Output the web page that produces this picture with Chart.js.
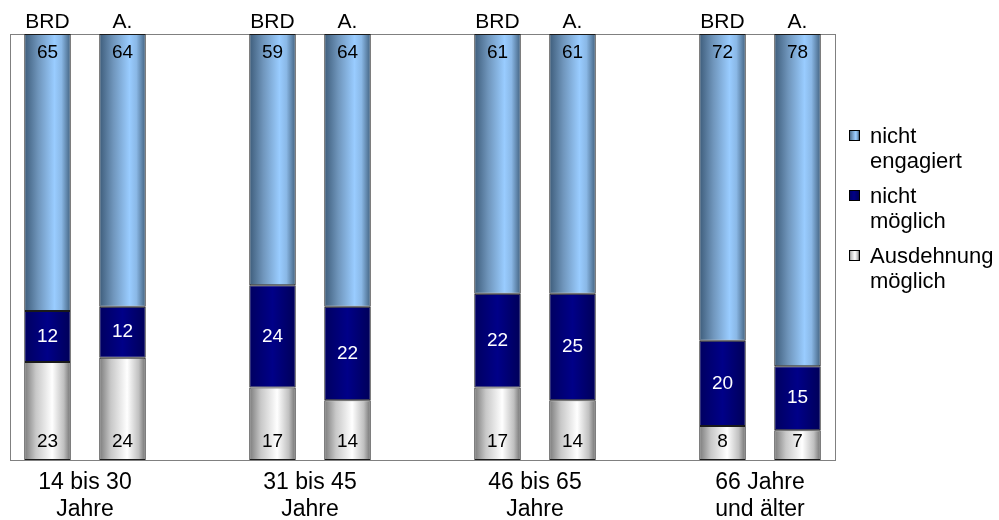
<!DOCTYPE html>
<html>
<head>
<meta charset="utf-8">
<script src="https://cdn.jsdelivr.net/npm/chart.js@4"></script>
<style>
  html, body { margin: 0; padding: 0; background: #fff; }
  #wrap { width: 999px; height: 520px; }
</style>
</head>
<body>
<div id="wrap"><canvas id="chart" width="999" height="520"></canvas></div>
<script>
const groups = [["14 bis 30", "Jahre"], ["31 bis 45", "Jahre"], ["46 bis 65", "Jahre"], ["66 Jahre", "und älter"]];
const barNames = ["BRD", "A."];
const seriesNames = ["Ausdehnung möglich", "nicht möglich", "nicht engagiert"];
const legendLines = [["Ausdehnung", "möglich"], ["nicht", "möglich"], ["nicht", "engagiert"]];

// BRD, A. per group
const ausdehnung = [23, 24, 17, 14, 17, 14, 8, 7];
const nichtMoeglich = [12, 12, 24, 22, 22, 25, 20, 15];
const nichtEngagiert = [65, 64, 59, 64, 61, 61, 72, 78];

const FONT = "'Liberation Sans', Arial, sans-serif";

// 3 slots per group: BRD, A., gap
const slots = [];
const slotLabels = [];
groups.forEach((g, gi) => {
    barNames.forEach((b, bi) => { slots.push(gi * 2 + bi); slotLabels.push(b); });
    if (gi < groups.length - 1) { slots.push(null); slotLabels.push(""); }
});
const toSlots = (arr) => slots.map(i => i === null ? null : arr[i]);

const stopsGray = [[0, "#7a7a7a"], [0.25, "#c8c8c8"], [0.6, "#ffffff"], [0.85, "#c0c0c0"], [1, "#6e6e6e"]];
const stopsNavy = [[0, "#000060"], [0.5, "#000088"], [1, "#000058"]];
const stopsBlue = [[0, "#3d5c7a"], [0.3, "#6f95bb"], [0.65, "#99ccff"], [0.8, "#8ab8e6"], [1, "#40607e"]];

const gradFill = (stops) => (c) => {
    const chart = c.chart;
    const xs = chart.scales.x;
    const fallback = stops[Math.floor(stops.length / 2)][1];
    if (!xs || c.dataIndex === undefined) return fallback;
    const cx = xs.getPixelForValue(c.dataIndex);
    const half = xs.width / slotLabels.length * 0.62 / 2;
    if (!isFinite(cx) || !isFinite(half) || half <= 0) return fallback;
    const g = chart.ctx.createLinearGradient(cx - half, 0, cx + half, 0);
    stops.forEach(s => g.addColorStop(s[0], s[1]));
    return g;
};

const allStops = [stopsGray, stopsNavy, stopsBlue];

const labelsPlugin = {
    id: "labels",
    beforeDraw(chart) {
        const a = chart.chartArea;
        const ctx = chart.ctx;
        ctx.save();
        ctx.strokeStyle = "#808080";
        ctx.lineWidth = 1;
        ctx.strokeRect(a.left + 0.5, a.top + 0.5, a.right - a.left, a.bottom - a.top);
        ctx.restore();
    },
    afterDatasetsDraw(chart) {
        const ctx = chart.ctx;
        const xs = chart.scales.x;
        ctx.save();
        ctx.textAlign = "center";
        ctx.textBaseline = "middle";
        // values
        ctx.font = "19px " + FONT;
        chart.data.datasets.forEach((ds, di) => {
            const meta = chart.getDatasetMeta(di);
            meta.data.forEach((el, i) => {
                const v = ds.data[i];
                if (v === null) return;
                let y;
                if (di === 0) y = el.base - 18;
                else if (di === 1) y = (el.y + el.base) / 2;
                else y = el.y + 19;
                ctx.fillStyle = di === 1 ? "#ffffff" : "#000000";
                ctx.fillText(String(v), el.x, y);
            });
        });
        // bar names above
        ctx.fillStyle = "#000";
        ctx.font = "21px " + FONT;
        slotLabels.forEach((l, i) => {
            if (l) ctx.fillText(l, xs.getPixelForValue(i), chart.chartArea.top - 12);
        });
        // group names below
        ctx.font = "23px " + FONT;
        groups.forEach((g, gi) => {
            const x = (xs.getPixelForValue(gi * 3) + xs.getPixelForValue(gi * 3 + 1)) / 2;
            g.forEach((line, li) => ctx.fillText(line, x, chart.chartArea.bottom + 23 + li * 27));
        });
        // legend
        ctx.textAlign = "left";
        ctx.font = "22px " + FONT;
        const lx = 849, ly0 = 135;
        [2, 1, 0].forEach((di, k) => {
            const y = ly0 + k * 60;
            const g = ctx.createLinearGradient(lx, 0, lx + 10, 0);
            allStops[di].forEach(s => g.addColorStop(s[0], s[1]));
            ctx.fillStyle = g;
            ctx.fillRect(lx, y - 5, 10, 10);
            ctx.strokeStyle = "#000";
            ctx.lineWidth = 1;
            ctx.strokeRect(lx + 0.5, y - 4.5, 10, 10);
            ctx.fillStyle = "#000";
            legendLines[di].forEach((line, li) => ctx.fillText(line, 870, y + 2 + li * 25));
        });
        ctx.restore();
    }
};

new Chart(document.getElementById("chart"), {
    type: "bar",
    data: {
        labels: slotLabels,
        datasets: [
            { label: seriesNames[0], data: toSlots(ausdehnung), backgroundColor: gradFill(stopsGray) },
            { label: seriesNames[1], data: toSlots(nichtMoeglich), backgroundColor: gradFill(stopsNavy) },
            { label: seriesNames[2], data: toSlots(nichtEngagiert), backgroundColor: gradFill(stopsBlue) }
        ].map(d => Object.assign(d, { borderColor: "#1a1a1a", borderWidth: 1, borderSkipped: false, barPercentage: 0.62, categoryPercentage: 1 }))
    },
    options: {
        responsive: false,
        animation: false,
        layout: { padding: { left: 10, top: 34, right: 164, bottom: 60 } },
        plugins: { legend: { display: false }, tooltip: { enabled: false } },
        scales: {
            x: { stacked: true, display: false },
            y: { stacked: true, display: false, min: 0, max: 100 }
        }
    },
    plugins: [labelsPlugin]
});
</script>
</body>
</html>
